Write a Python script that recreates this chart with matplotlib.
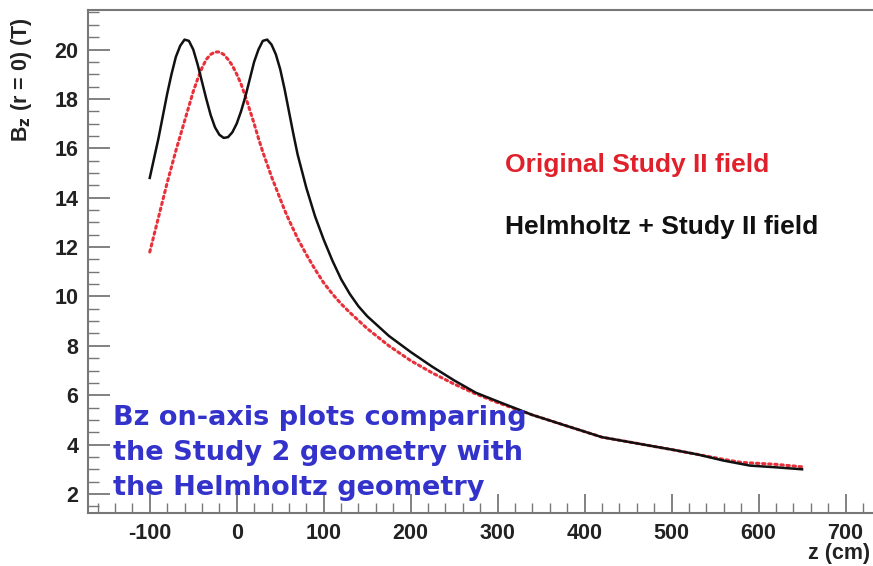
import numpy as np
import matplotlib
matplotlib.use("Agg")
import matplotlib.pyplot as plt
from matplotlib.ticker import MultipleLocator

# Helmholtz + Study II field (black, solid)
z_helm = [-100, -95, -90, -85, -80, -75, -70, -65, -60, -55, -50, -45, -40, -35, -30, -25, -20,
          -15, -10, -5, 0, 5, 10, 15, 20, 25, 30, 35, 40, 45, 50, 55, 60, 65, 70, 80, 90, 100,
          110, 120, 130, 140, 150, 175, 200, 225, 250, 275, 300, 340, 380, 420, 460, 500, 530,
          560, 590, 620, 650]
b_helm = [14.8, 15.6, 16.4, 17.3, 18.2, 19.0, 19.7, 20.15, 20.4, 20.35, 20.0, 19.4, 18.7, 18.0,
          17.35, 16.85, 16.55, 16.42, 16.45, 16.65, 17.0, 17.5, 18.1, 18.8, 19.5, 20.0, 20.35,
          20.4, 20.2, 19.8, 19.2, 18.4, 17.5, 16.6, 15.75, 14.4, 13.25, 12.3, 11.45, 10.7, 10.1,
          9.6, 9.2, 8.4, 7.75, 7.15, 6.6, 6.1, 5.75, 5.2, 4.75, 4.3, 4.05, 3.8, 3.6, 3.35, 3.15,
          3.08, 3.0]

# Original Study II field (red, dotted)
z_orig = [-100, -95, -90, -85, -80, -75, -70, -65, -60, -55, -50, -45, -40, -35, -30, -25, -20,
          -15, -10, -5, 0, 5, 10, 15, 20, 25, 30, 35, 40, 45, 50, 55, 60, 70, 80, 90, 100, 110,
          120, 130, 150, 175, 200, 225, 250, 275, 300, 340, 380, 420, 460, 500, 530, 560, 580,
          600, 620, 650]
b_orig = [11.8, 12.5, 13.2, 13.9, 14.6, 15.25, 15.9, 16.5, 17.1, 17.7, 18.3, 18.8, 19.25, 19.6,
          19.8, 19.9, 19.9, 19.8, 19.6, 19.35, 19.0, 18.6, 18.1, 17.55, 17.0, 16.4, 15.85, 15.35,
          14.85, 14.4, 13.95, 13.5, 13.1, 12.35, 11.7, 11.1, 10.55, 10.1, 9.7, 9.35, 8.7, 8.0,
          7.4, 6.9, 6.45, 6.05, 5.7, 5.2, 4.75, 4.3, 4.05, 3.8, 3.6, 3.4, 3.28, 3.24, 3.2, 3.1]

x_ticks = [-100, 0, 100, 200, 300, 400, 500, 600, 700]
x_ticklabels = ["-100", "0", "100", "200", "300", "400", "500", "600", "700"]
y_ticks = [2, 4, 6, 8, 10, 12, 14, 16, 18, 20]

fig = plt.figure(figsize=(8.73, 5.66), dpi=100)
ax = fig.add_axes([88/873, 53/566, 788/873, 503/566])

ax.plot(z_orig, b_orig, color="#e8303a", lw=2.2, linestyle=(0, (0.8, 1.2)), dash_capstyle="round")
ax.plot(z_helm, b_helm, color="#111111", lw=1.8)

ax.set_xlim(-171, 735)
ax.set_ylim(1.23, 21.6)
ax.set_xticks(x_ticks)
ax.set_xticklabels(x_ticklabels)
ax.set_yticks(y_ticks)
ax.xaxis.set_minor_locator(MultipleLocator(20))
ax.yaxis.set_minor_locator(MultipleLocator(0.5))

spine_col = "#777777"
for s in ax.spines.values():
    s.set_color(spine_col)
    s.set_linewidth(1.5)

ax.tick_params(axis="both", which="both", direction="in", colors=spine_col,
               labelcolor="#222222", top=False, right=False)
ax.tick_params(axis="y", which="major", length=16, width=1.3, pad=7)
ax.tick_params(axis="y", which="minor", length=8, width=1.0)
ax.tick_params(axis="x", which="major", length=14, width=1.3, pad=7)
ax.tick_params(axis="x", which="minor", length=7, width=1.0)
for lab in ax.get_xticklabels() + ax.get_yticklabels():
    lab.set_fontfamily("Liberation Sans")
    lab.set_fontweight("bold")
    lab.set_fontsize(15.5)

fig.text(22/873, 1 - 80/566, r"B$_\mathbf{z}$ (r = 0) (T)", rotation=90, ha="center", va="center",
         fontsize=15.5, fontweight="bold", family="Liberation Sans", color="#222222")
fig.text(870/873, 1 - 554/566, "z (cm)", ha="right", va="center",
         fontsize=15.5, fontweight="bold", family="Liberation Sans", color="#222222")

ax.text(308, 15.34, "Original Study II field", color="#e0202a", fontsize=19,
        fontweight="bold", family="Liberation Sans", va="center", ha="left")
ax.text(308, 12.83, "Helmholtz + Study II field", color="#111111", fontsize=19,
        fontweight="bold", family="Liberation Sans", va="center", ha="left")

blue_text = "Bz on-axis plots comparing\nthe Study 2 geometry with\nthe Helmholtz geometry"
fig.text(113/873, 1 - 405/566, blue_text, color="#3333cc", fontsize=19.5, fontweight="bold",
         family="DejaVu Sans", va="top", ha="left", linespacing=1.45)

fig.savefig("out.png", dpi=100)
